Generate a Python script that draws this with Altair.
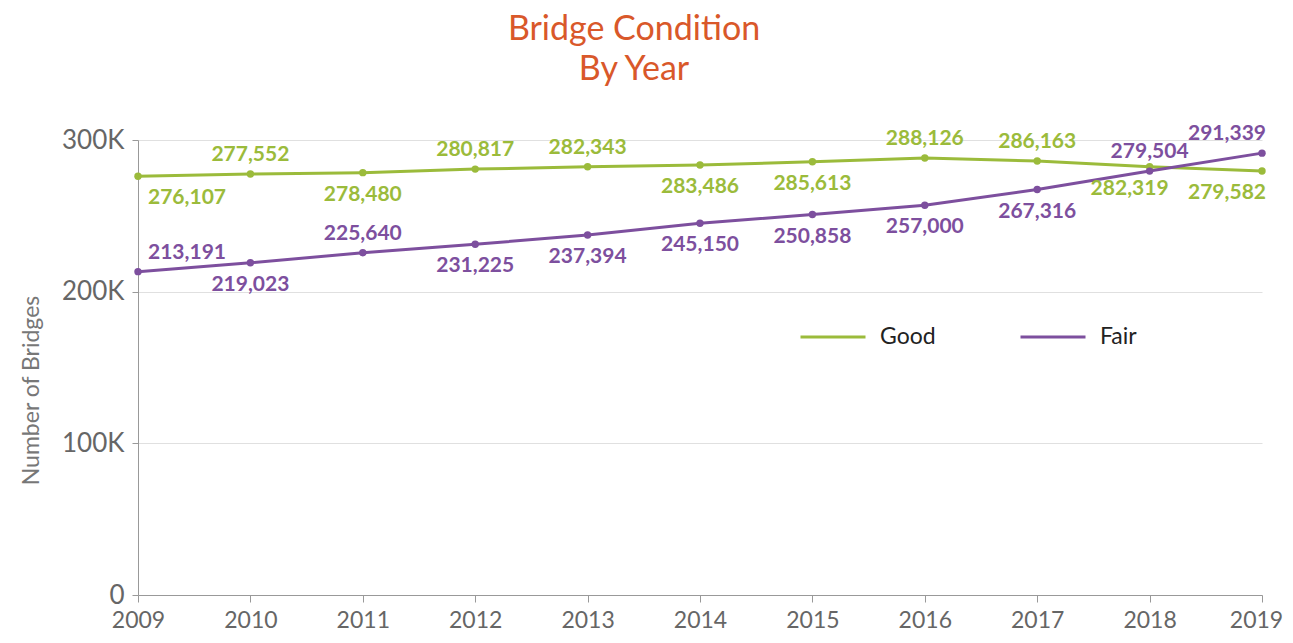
import altair as alt
import pandas as pd

years = list(range(2009, 2020))
good = [276107, 277552, 278480, 280817, 282343, 283486, 285613, 288126, 286163, 282319, 279582]
fair = [213191, 219023, 225640, 231225, 237394, 245150, 250858, 257000, 267316, 279504, 291339]
series_names = ["Good", "Fair"]
series_colors = ["#9BBB3B", "#7D4F9E"]
y_ticks = [0, 100000, 200000, 300000]

# label placement (above / below the point) and horizontal anchoring
good_side = ["below", "above", "below", "above", "above", "below", "below", "above", "above", "below", "below"]
fair_side = ["above", "below", "above", "below", "below", "below", "below", "below", "below", "above", "above"]
good_anchor = ["left", "center", "center", "center", "center", "center", "center", "center", "center", "shift", "right"]
fair_anchor = ["left", "center", "center", "center", "center", "center", "center", "center", "center", "center", "right"]

rows = []
for i, yr in enumerate(years):
    rows.append({"year": yr, "value": good[i], "series": "Good", "side": good_side[i], "anchor": good_anchor[i]})
for i, yr in enumerate(years):
    rows.append({"year": yr, "value": fair[i], "series": "Fair", "side": fair_side[i], "anchor": fair_anchor[i]})
df = pd.DataFrame(rows)

FONT = "Lato"

x_enc = alt.X("year:Q",
              scale=alt.Scale(domain=[2009, 2019], nice=False, zero=False),
              axis=alt.Axis(values=years, format="d", title=None, grid=False,
                            tickSize=7, labelPadding=7, labelFontSize=23,
                            labelColor="#666666", labelFont=FONT,
                            labelOffset=alt.ExprRef(expr="datum.value == 2019 ? -6 : 0"),
                            domainColor="#999999", tickColor="#999999",
                            labelFlush=False))
y_enc = alt.Y("value:Q",
              scale=alt.Scale(domain=[0, 300000], nice=False),
              axis=alt.Axis(values=y_ticks,
                            labelExpr="datum.value == 0 ? '0' : (datum.value / 1000) + 'K'",
                            title="Number of Bridges", titleFontSize=23,
                            titleFontWeight="normal", titleColor="#777777",
                            titleFont=FONT, titlePadding=18, titleY=250,
                            tickSize=6, labelPadding=8, labelFontSize=26,
                            labelColor="#666666", labelFont=FONT,
                            domainColor="#999999", tickColor="#999999",
                            gridColor="#E0E0E0"))
color_scale = alt.Scale(domain=series_names, range=series_colors)

base = alt.Chart(df)

line = base.mark_line(strokeWidth=3).encode(
    x=x_enc, y=y_enc,
    color=alt.Color("series:N", scale=color_scale, sort=series_names,
                    legend=alt.Legend(title=None, orient="none", direction="horizontal",
                                      legendX=661, legendY=163,
                                      symbolType="stroke", symbolSize=4225,
                                      symbolStrokeWidth=3, labelFontSize=23,
                                      labelFont=FONT, labelColor="#222222",
                                      labelOffset=13, columnPadding=78)),
    detail="series:N",
)

points = base.mark_circle(size=55, opacity=1).encode(
    x="year:Q", y="value:Q",
    color=alt.Color("series:N", scale=color_scale, legend=None),
)

layers = [line, points]
anchor_cfg = {"left": ("left", 10), "center": ("center", 0), "right": ("right", 4), "shift": ("center", -20)}
side_cfg = {"above": -19, "below": 22}
for side, dy in side_cfg.items():
    for anc, (align, dx) in anchor_cfg.items():
        layers.append(
            base.transform_filter(
                (alt.datum.side == side) & (alt.datum.anchor == anc)
            ).mark_text(align=align, baseline="middle", dx=dx, dy=dy,
                        fontSize=21, fontWeight="bold", font=FONT).encode(
                x="year:Q", y="value:Q",
                text=alt.Text("value:Q", format=","),
                color=alt.Color("series:N", scale=color_scale, legend=None),
            )
        )

chart = alt.layer(*layers).properties(
    width=1124, height=455,
    title=alt.TitleParams(["Bridge Condition", "By Year"], fontSize=34,
                          font=FONT, fontWeight="normal", color="#D9582A",
                          lineHeight=40, anchor="middle", offset=36, dx=-66),
    autosize=alt.AutoSizeParams(type="none"),
    padding={"left": 130, "top": 132, "right": 23, "bottom": 40},
).configure_view(stroke=None)

chart.save("out.html", embed_options={"renderer": "svg", "actions": False})
